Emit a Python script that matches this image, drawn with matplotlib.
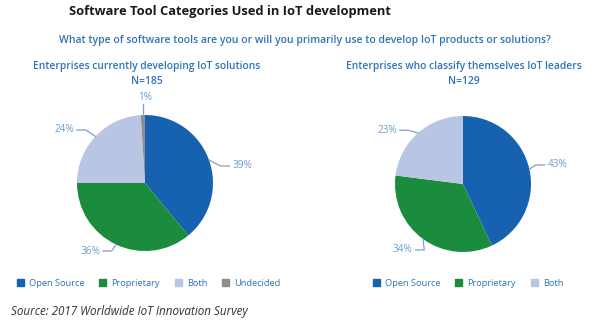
import numpy as np
import matplotlib
matplotlib.use("Agg")
import matplotlib.pyplot as plt
from matplotlib.patches import Patch

plt.rcParams['font.family'] = ['Open Sans', 'DejaVu Sans']

# data
left_labels = ['Open Source', 'Proprietary', 'Both', 'Undecided']
left_values = [39, 36, 24, 1]
right_labels = ['Open Source', 'Proprietary', 'Both']
right_values = [43, 34, 23]

COLORS = {'Open Source': '#1762b0', 'Proprietary': '#1b8b3e',
          'Both': '#b8c5e3', 'Undecided': '#8e8e8e'}
BLUE = '#2f74b6'
LABEL_BLUE = '#6b9bd1'

# label text positions (pie radius = 1), one per wedge
left_text_pos = [(1.28, 0.25), (-0.66, -1.0), (-1.04, 0.78), (0.0, 1.26)]
right_text_pos = [(1.24, 0.28), (-0.74, -0.97), (-0.97, 0.79)]


def draw_pie(ax, labels, values, text_pos):
    wedges, _ = ax.pie(values, colors=[COLORS[l] for l in labels],
                       startangle=90, counterclock=False, radius=1.0,
                       wedgeprops=dict(linewidth=0))
    for w, v, (tx, ty) in zip(wedges, values, text_pos):
        mid = np.deg2rad((w.theta1 + w.theta2) / 2)
        ex, ey = np.cos(mid), np.sin(mid)
        txt = f'{v}%'
        if abs(tx) < 0.1:
            # label straight above
            ax.plot([ex, ex], [ey, ty - 0.1], color='#7f9fcc', lw=0.9)
            ax.text(tx, ty, txt, ha='center', va='center', fontsize=7.2, color=LABEL_BLUE)
        elif tx > 0:
            ax.plot([ex, tx - 0.17, tx - 0.04], [ey, ty, ty], color='#7f9fcc', lw=0.9)
            ax.text(tx, ty, txt, ha='left', va='center', fontsize=7.2, color=LABEL_BLUE)
        else:
            ax.plot([ex, tx + 0.17, tx + 0.04], [ey, ty, ty], color='#7f9fcc', lw=0.9)
            ax.text(tx, ty, txt, ha='right', va='center', fontsize=7.2, color=LABEL_BLUE)
    ax.set_xlim(-2, 2)
    ax.set_ylim(-1.5, 1.5)
    ax.set_aspect('equal')
    ax.axis('off')
    return wedges


fig = plt.figure(figsize=(6.0, 3.29), dpi=100)

ax1 = fig.add_axes([9 / 600, 44 / 329, 272 / 600, 204 / 329])
draw_pie(ax1, left_labels, left_values, left_text_pos)
ax2 = fig.add_axes([327 / 600, 43 / 329, 272 / 600, 204 / 329])
draw_pie(ax2, right_labels, right_values, right_text_pos)

fig.text(69 / 600, 1 - 12 / 329, 'Software Tool Categories Used in IoT development',
         ha='left', va='center', fontsize=9.25, fontweight='bold', color='#1a1a1a')
fig.text(305 / 600, 1 - 41 / 329,
         'What type of software tools are you or will you primarily use to develop IoT products or solutions?',
         ha='center', va='center', fontsize=7.45, fontweight='semibold', color=BLUE)

fig.text(147 / 600, 1 - 67 / 329, 'Enterprises currently developing IoT solutions',
         ha='center', va='center', fontsize=7.4, fontweight='semibold', color=BLUE)
fig.text(147 / 600, 1 - 81 / 329, 'N=185',
         ha='center', va='center', fontsize=7.4, fontweight='semibold', color=BLUE)
fig.text(464 / 600, 1 - 67 / 329, 'Enterprises who classify themselves IoT leaders',
         ha='center', va='center', fontsize=7.35, fontweight='semibold', color=BLUE)
fig.text(464 / 600, 1 - 81 / 329, 'N=129',
         ha='center', va='center', fontsize=7.35, fontweight='semibold', color=BLUE)

leg_kw = dict(frameon=False, fontsize=6.7, handlelength=0.75, handleheight=0.75,
              handletextpad=0.55, columnspacing=1.6, labelcolor=BLUE, borderaxespad=0,
              borderpad=0)
fig.legend(handles=[Patch(color=COLORS[l], label=l) for l in left_labels],
           ncol=4, loc='center left', bbox_to_anchor=(17 / 600, 1 - 283 / 329), **leg_kw)
fig.legend(handles=[Patch(color=COLORS[l], label=l) for l in right_labels],
           ncol=3, loc='center left', bbox_to_anchor=(373 / 600, 1 - 283 / 329), **leg_kw)

fig.text(11 / 600, 1 - 312 / 329, 'Source: 2017 Worldwide IoT Innovation Survey',
         ha='left', va='center', fontsize=8.35, style='italic', color='#333333')

fig.savefig('out.png', dpi=100, facecolor='white')
